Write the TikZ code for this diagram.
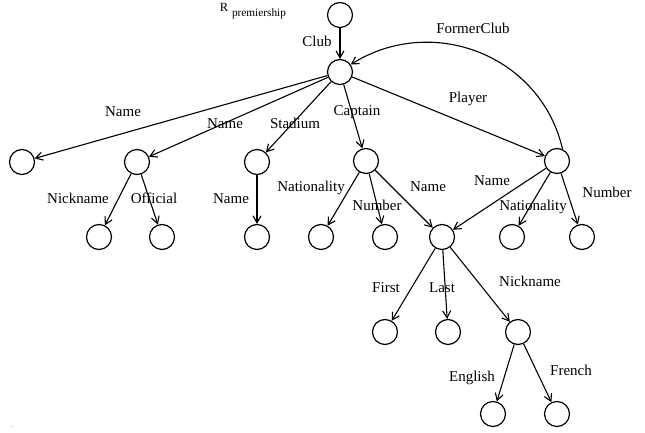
\documentclass[tikz,border=0pt]{standalone}
\usepackage{fontspec}
\setmainfont{Liberation Serif}
\usetikzlibrary{arrows.meta}
\begin{document}
\begin{tikzpicture}[x=1pt,y=1pt,
  vtx/.style={circle,draw,line width=1.2pt,minimum size=25pt,inner sep=0pt},
  arr/.style={draw,line width=1.1pt,-{Straight Barb[length=7pt,width=8pt,line width=1.1pt]}},
  lbl/.style={inner sep=0pt,font=\fontsize{15}{18}\selectfont,text height=0.68em,text depth=0pt}]
\useasboundingbox (0,0) rectangle (645,433);
% vertices
\node[vtx] (top) at (340,418) {};
\node[vtx] (club) at (340,361) {};
\node[vtx] (l1) at (22,271) {};
\node[vtx] (n2) at (137,271) {};
\node[vtx] (st) at (257,271) {};
\node[vtx] (cap) at (366,272) {};
\node[vtx] (pl) at (557,272) {};
\node[vtx] (nicka) at (99,196) {};
\node[vtx] (off) at (162,196) {};
\node[vtx] (stn) at (257,196) {};
\node[vtx] (capnat) at (321,196) {};
\node[vtx] (capnum) at (385,196) {};
\node[vtx] (sn) at (442,196) {};
\node[vtx] (plnat) at (512,196) {};
\node[vtx] (plnum) at (582,196) {};
\node[vtx] (first) at (385,101) {};
\node[vtx] (last) at (448,101) {};
\node[vtx] (nickb) at (518,101) {};
\node[vtx] (eng) at (493,19) {};
\node[vtx] (fr) at (557,19) {};
% edges
\draw[arr] (top) -- (club);
\draw[arr] (club) -- (l1);
\draw[arr] (club) -- (n2);
\draw[arr] (club) -- (st);
\draw[arr] (club) -- (cap);
\draw[arr] (club) -- (pl);
\draw[arr] (n2) -- (nicka);
\draw[arr] (n2) -- (off);
\draw[arr] (st) -- (stn);
\draw[arr] (cap) -- (capnat);
\draw[arr] (cap) -- (capnum);
\draw[arr] (cap) -- (sn);
\draw[arr] (pl) -- (sn);
\draw[arr] (pl) -- (plnat);
\draw[arr] (pl) -- (plnum);
\draw[arr] (sn) -- (first);
\draw[arr] (sn) -- (last);
\draw[arr] (sn) -- (nickb);
\draw[arr] (nickb) -- (eng);
\draw[arr] (nickb) -- (fr);
\draw[arr] (pl.65) to[out=103,in=32,looseness=1.08] (club.35);
% labels
\node[inner sep=0pt,font=\fontsize{12.5}{14}\selectfont] (rlbl) at (224,425.5) {R};
\node[inner sep=0pt,font=\fontsize{11.3}{13}\selectfont,text height=0.68em,text depth=0.2em] (plbl) at (259,419) {premiership};
\node[lbl] (lclub) at (317,390) {Club};
\node[lbl] (lformer) at (473,403) {FormerClub};
\node[lbl] (lname1) at (123,320) {Name};
\node[lbl] (lname2) at (225,308) {Name};
\node[lbl] (lstad) at (295,308) {Stadium};
\node[lbl] (lcapt) at (357,321) {Captain};
\node[lbl] (lplay) at (468,334) {Player};
\node[lbl] (lnick1) at (78,233) {Nickname};
\node[lbl] (loff) at (154,233) {Official};
\node[lbl] (lname3) at (231,233) {Name};
\node[lbl] (lnat1) at (311,245) {Nationality};
\node[lbl] (lnum1) at (377,226) {Number};
\node[lbl] (lname4) at (428,245) {Name};
\node[lbl] (lname5) at (492,251) {Name};
\node[lbl] (lnat2) at (533,226) {Nationality};
\node[lbl] (lnum2) at (607,239) {Number};
\node[lbl] (lfirst) at (386,144) {First};
\node[lbl] (llast) at (442,144) {Last};
\node[lbl] (lnick2) at (530,150) {Nickname};
\node[lbl] (leng) at (472,55) {English};
\node[lbl] (lfr) at (571,61) {French};
\node[inner sep=0pt,font=\fontsize{6}{7}\selectfont] (dot) at (12,6) {.};
\end{tikzpicture}
\end{document}
